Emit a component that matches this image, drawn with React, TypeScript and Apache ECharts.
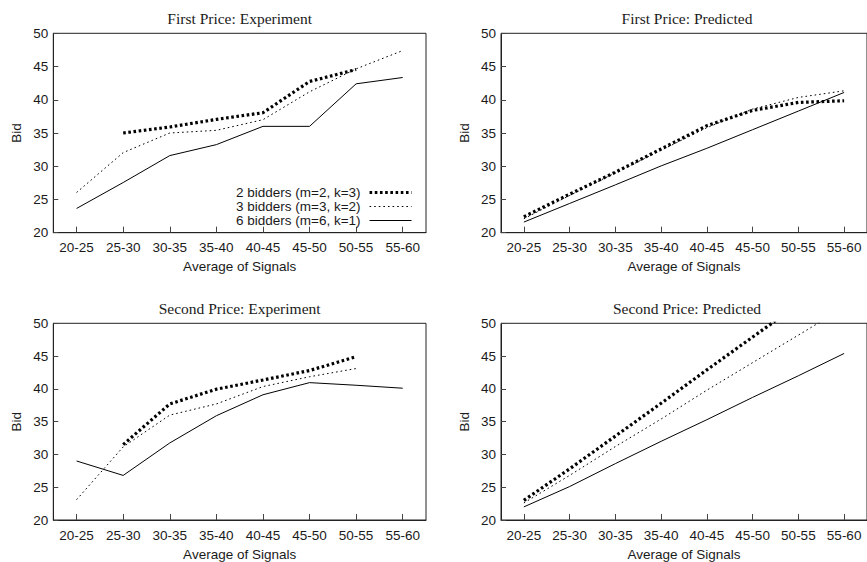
import React, { useEffect, useRef } from "react";
import * as echarts from "echarts";

const categories = ["20-25", "25-30", "30-35", "35-40", "40-45", "45-50", "50-55", "55-60"];
const yTicks = [20, 25, 30, 35, 40, 45, 50];
const seriesNames = ["2 bidders (m=2, k=3)", "3 bidders (m=3, k=2)", "6 bidders (m=6, k=1)"];
const panelTitles = [
  "First Price: Experiment",
  "First Price: Predicted",
  "Second Price: Experiment",
  "Second Price: Predicted",
];

const fpExp2 = [null, 35.0, 35.9, 37.05, 38.05, 42.75, 44.55, null];
const fpExp3 = [26.05, 32.05, 35.0, 35.4, 37.0, 41.2, 44.65, 47.4];
const fpExp6 = [23.65, 27.55, 31.6, 33.25, 36.0, 36.0, 42.4, 43.35];

const fpPred2 = [22.4, 25.8, 29.1, 32.6, 36.1, 38.4, 39.6, 39.85];
const fpPred3 = [22.1, 25.6, 29.0, 32.4, 35.8, 38.6, 40.35, 41.35];
const fpPred6 = [21.6, 24.4, 27.2, 30.05, 32.7, 35.5, 38.3, 41.1];

const spExp2 = [null, 31.5, 37.7, 39.95, 41.35, 42.8, 44.9, null];
const spExp3 = [23.1, 31.15, 36.0, 37.7, 40.35, 41.85, 43.1, null];
const spExp6 = [29.0, 26.8, 31.75, 35.9, 39.1, 40.95, 40.55, 40.1];

const spPred2 = [23.0, 27.8, 32.8, 37.8, 42.9, 47.9, 52.9, 57.9];
const spPred3 = [22.6, 26.8, 31.2, 35.4, 39.8, 44.0, 48.2, 52.4];
const spPred6 = [22.0, 25.1, 28.6, 32.0, 35.3, 38.7, 42.0, 45.4];

const panelData = [
  [fpExp2, fpExp3, fpExp6],
  [fpPred2, fpPred3, fpPred6],
  [spExp2, spExp3, spExp6],
  [spPred2, spPred3, spPred6],
];

const grids = [
  { left: 53.3, top: 33.3, width: 372.7, height: 199.4 },
  { left: 501, top: 33.3, width: 372, height: 199.4 },
  { left: 53.3, top: 323.3, width: 372.7, height: 199 },
  { left: 501, top: 323.3, width: 372, height: 199 },
];
const titleTops = [10, 10, 300, 300];

const lineStyles = [
  { width: 3.2, type: [2.6, 2.6], color: "#000" },
  { width: 1, type: [1.6, 3], color: "#000" },
  { width: 1, type: "solid", color: "#000" },
];

const SANS = "Liberation Sans, Arial, sans-serif";
const SERIF = "Liberation Serif, Times New Roman, serif";
const TXT = "#1a1a1a";

export default function App() {
  const ref = useRef<HTMLDivElement>(null);
  useEffect(() => {
    if (!ref.current) return;
    const chart = echarts.init(ref.current, null, { renderer: "svg" });
    const xAxis = grids.map((_, i) => ({
      type: "category",
      gridIndex: i,
      data: categories,
      boundaryGap: true,
      name: "Average of Signals",
      nameLocation: "middle",
      nameGap: 27,
      nameTextStyle: { fontFamily: SANS, fontSize: 13.5, color: TXT },
      axisLine: { show: true, lineStyle: { color: "#222", width: 1 } },
      axisTick: { show: true, inside: true, alignWithLabel: true, length: 6, lineStyle: { color: "#444" } },
      axisLabel: { fontFamily: SANS, fontSize: 13.5, color: TXT, margin: 8, interval: 0 },
      splitLine: { show: false },
    }));
    const yAxis = grids.map((_, i) => ({
      type: "value",
      gridIndex: i,
      min: yTicks[0],
      max: yTicks[yTicks.length - 1],
      interval: 5,
      name: "Bid",
      nameLocation: "middle",
      nameGap: 30,
      nameTextStyle: { fontFamily: SANS, fontSize: 13.5, color: TXT },
      axisLine: { show: true, lineStyle: { color: "#222", width: 1 } },
      axisTick: { show: true, inside: true, length: 5, lineStyle: { color: "#444" } },
      axisLabel: { fontFamily: SANS, fontSize: 13.5, color: TXT, margin: 5 },
      splitLine: { show: false },
    }));
    const series: any[] = [];
    panelData.forEach((sets, pi) => {
      sets.forEach((vals, si) => {
        series.push({
          type: "line",
          name: seriesNames[si],
          xAxisIndex: pi,
          yAxisIndex: pi,
          data: vals.map((v) => (v === null ? "-" : v)),
          symbol: "none",
          showSymbol: false,
          clip: true,
          lineStyle: lineStyles[si],
          itemStyle: { color: "#000" },
          z: 2 + si,
        });
      });
    });
    chart.setOption({
      animation: false,
      backgroundColor: "#fff",
      title: panelTitles.map((t, i) => ({
        text: t,
        left: grids[i].left + grids[i].width / 2,
        top: titleTops[i],
        textAlign: "center",
        padding: 0,
        textStyle: { fontFamily: SERIF, fontSize: 15.5, fontWeight: "normal", color: TXT },
      })),
      grid: grids.map((g) => ({
        ...g,
        show: true,
        borderColor: "#222",
        borderWidth: 1,
        containLabel: false,
      })),
      legend: {
        orient: "vertical",
        align: "right",
        left: 236,
        top: 185.5,
        padding: 0,
        itemGap: 0,
        itemWidth: 42,
        itemHeight: 10,
        selectedMode: false,
        textStyle: { fontFamily: SANS, fontSize: 13.5, color: TXT, lineHeight: 13.5, padding: [0, 4, 0, 0] },
        data: seriesNames.map((n, i) => ({
          name: n,
          lineStyle: { ...lineStyles[i] },
          itemStyle: { opacity: 0 },
        })),
      },
      xAxis,
      yAxis,
      series,
    });
    return () => chart.dispose();
  }, []);
  return (
    <div
      ref={ref}
      style={{ position: "fixed", left: 0, top: 0, width: 867, height: 562, background: "#fff" }}
    />
  );
}
